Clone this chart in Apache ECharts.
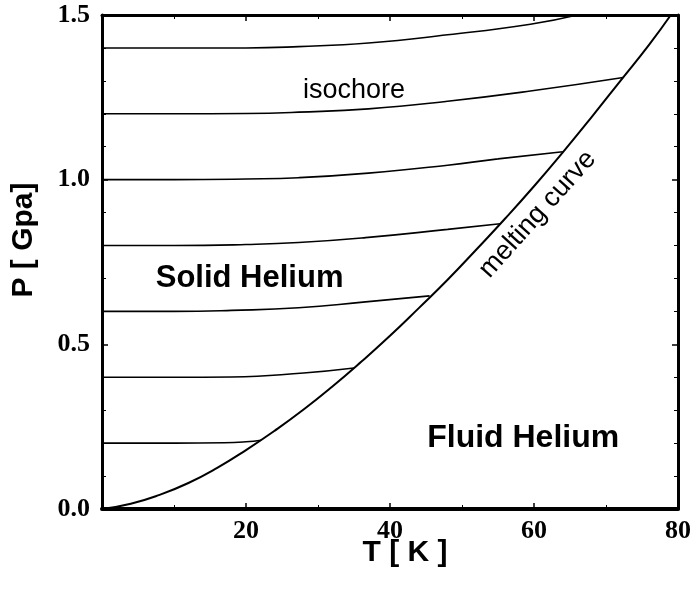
<!DOCTYPE html>
<html>
<head>
<meta charset="utf-8">
<script src="https://cdn.jsdelivr.net/npm/echarts@6/dist/echarts.min.js"></script>
<style>
  html, body { margin: 0; padding: 0; background: #fff; }
  #chart { width: 694px; height: 590px; }
</style>
</head>
<body>
<div id="chart"></div>
<script>
// melting curve of helium, [T (K), P (GPa)]
const meltingCurve = [
  [0, 0], [4, 0.016], [8, 0.043], [12, 0.079], [16, 0.125], [20, 0.179],
  [24, 0.238], [28, 0.302], [32, 0.372], [36, 0.447], [40, 0.526],
  [44, 0.61], [48, 0.696], [52, 0.788], [56, 0.882], [60, 0.98],
  [64, 1.083], [68, 1.19], [72, 1.3], [76, 1.41], [79, 1.5]
]

// isochores, each starts at T = 0 and ends on the melting curve
const iso02 = [[0, 0.2], [10, 0.2], [17, 0.201], [20, 0.204], [22.1, 0.209]]
const iso04 = [[0, 0.4], [10, 0.4], [18, 0.401], [28, 0.413], [35, 0.428]]
const iso06 = [[0, 0.6], [10, 0.6], [18, 0.603], [27.3, 0.611], [36.6, 0.629], [45.5, 0.647]]
const iso08 = [[0, 0.8], [10, 0.8], [20, 0.803], [27.3, 0.809], [36.6, 0.824], [48, 0.849], [55.3, 0.866]]
const iso10 = [[0, 1.0], [10, 1.0], [20, 1.002], [27.3, 1.006], [37, 1.02], [48, 1.044], [55, 1.063], [64, 1.085]]
const iso12 = [[0, 1.2], [10, 1.2], [20, 1.201], [27.3, 1.205], [37, 1.215], [48, 1.238], [59.5, 1.269], [72.4, 1.31]]
const iso14 = [[0, 1.4], [10, 1.4], [20, 1.4], [27.3, 1.404], [37, 1.415], [48, 1.44], [59.5, 1.472], [66, 1.5]]
const isochores = [iso02, iso04, iso06, iso08, iso10, iso12, iso14]

// annotations placed in data coordinates
const noteTexts = ['isochore', 'Solid Helium', 'Fluid Helium', 'melting curve']
const noteT = [35.0, 20.5, 58.5, 60.5]
const noteP = [1.27, 0.70, 0.215, 0.895]

const xTicks = [0, 20, 40, 60, 80]
const yTicks = [0, 0.5, 1.0, 1.5]

const chart = echarts.init(document.getElementById('chart'))

const tickLabelFont = {
  color: '#000',
  fontFamily: 'Liberation Serif',
  fontWeight: 'bold',
  fontSize: 26
}

function frameAxis(extra) {
  return Object.assign({
    type: 'value',
    axisLine: { show: true, onZero: false, lineStyle: { color: '#000', width: 3 } },
    axisTick: { show: true, inside: true, length: 6, lineStyle: { color: '#000', width: 1.5 } },
    splitLine: { show: false },
    minorSplitLine: { show: false }
  }, extra)
}

const noteStyles = [
  { fontSize: 27, fontWeight: 'normal', rotate: 0 },
  { fontSize: 31, fontWeight: 'bold', rotate: 0 },
  { fontSize: 32, fontWeight: 'bold', rotate: 0 },
  { fontSize: 27, fontWeight: 'normal', rotate: 48 }
]

const series = isochores.map(function(d) {
  return {
    type: 'line',
    data: d,
    smooth: 0.5,
    showSymbol: false,
    lineStyle: { color: '#000', width: 1.6 }
  }
})

series.push({
  type: 'line',
  data: meltingCurve,
  smooth: 0.5,
  showSymbol: false,
  lineStyle: { color: '#000', width: 2 }
})

series.push({
  type: 'scatter',
  symbolSize: 0,
  itemStyle: { opacity: 1 },
  data: noteTexts.map(function(t, i) {
    return {
      value: [noteT[i], noteP[i]],
      label: {
        show: true,
        position: 'inside',
        formatter: t,
        color: '#000',
        opacity: 1,
        fontFamily: 'Arial, Liberation Sans, sans-serif',
        fontSize: noteStyles[i].fontSize,
        fontWeight: noteStyles[i].fontWeight,
        rotate: noteStyles[i].rotate
      }
    }
  })
})

const minorX = { show: true, splitNumber: 2, length: 4, lineStyle: { color: '#000', width: 1 } }
const minorY = { show: true, splitNumber: 5, length: 4, lineStyle: { color: '#000', width: 1 } }

const option = {
  animation: false,
  backgroundColor: '#fff',
  grid: { left: 102, right: 13, top: 15, bottom: 81 },
  xAxis: [
    frameAxis({
      position: 'bottom',
      min: xTicks[0],
      max: xTicks[xTicks.length - 1],
      interval: 20,
      minorTick: minorX,
      axisLine: { show: true, onZero: false, lineStyle: { color: '#000', width: 4 } },
      axisLabel: Object.assign({
        margin: 9,
        formatter: function(v) { return v === 0 ? '' : String(v) }
      }, tickLabelFont)
    }),
    frameAxis({
      position: 'top',
      min: xTicks[0],
      max: xTicks[xTicks.length - 1],
      interval: 20,
      minorTick: minorX,
      axisLabel: { show: false }
    })
  ],
  yAxis: [
    frameAxis({
      position: 'left',
      min: yTicks[0],
      max: yTicks[yTicks.length - 1],
      interval: 0.5,
      minorTick: minorY,
      axisLabel: Object.assign({
        margin: 12,
        formatter: function(v) { return v.toFixed(1) }
      }, tickLabelFont)
    }),
    frameAxis({
      position: 'right',
      min: yTicks[0],
      max: yTicks[yTicks.length - 1],
      interval: 0.5,
      minorTick: minorY,
      axisLabel: { show: false }
    })
  ],
  graphic: [
    {
      type: 'text',
      x: 405,
      y: 553,
      style: {
        text: 'T [ K ]',
        fill: '#000',
        font: 'bold 30px Arial, "Liberation Sans", sans-serif',
        textAlign: 'center',
        textVerticalAlign: 'middle'
      }
    },
    {
      type: 'text',
      x: 24,
      y: 240,
      rotation: Math.PI / 2,
      style: {
        text: 'P [ Gpa]',
        fill: '#000',
        font: 'bold 30px Arial, "Liberation Sans", sans-serif',
        textAlign: 'center',
        textVerticalAlign: 'middle'
      }
    }
  ],
  series: series
}

chart.setOption(option)
</script>
</body>
</html>
